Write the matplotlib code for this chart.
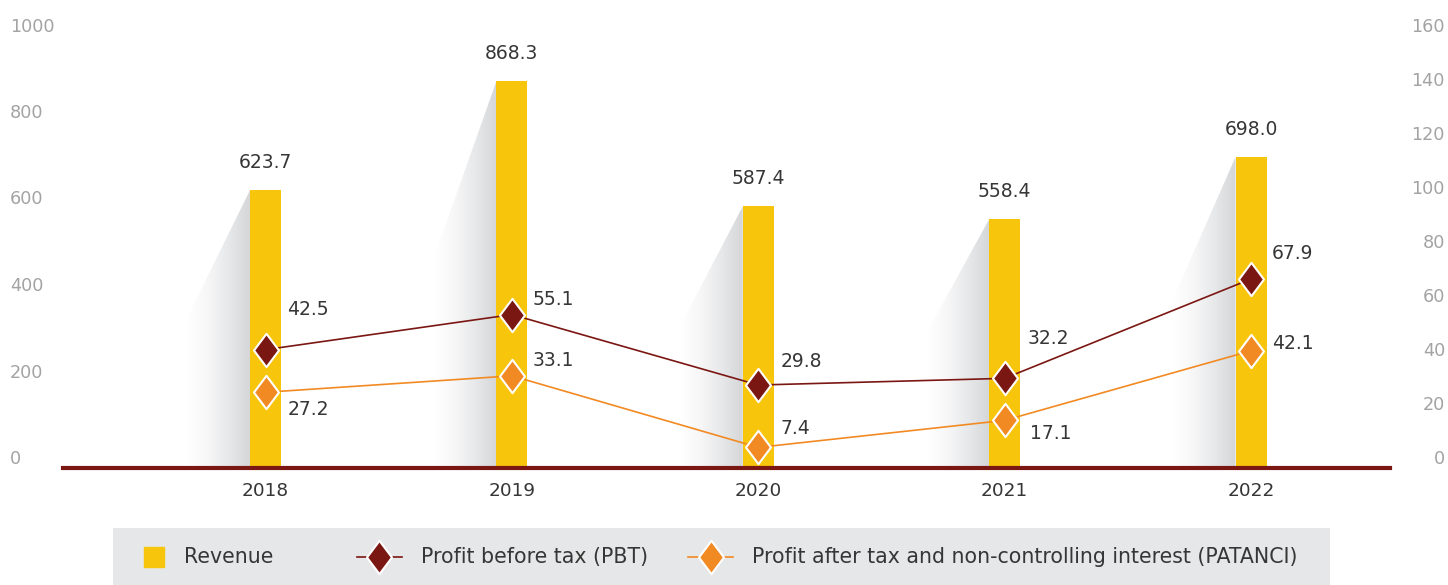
import numpy as np
import matplotlib.pyplot as plt
from matplotlib.path import Path
from matplotlib.patches import Polygon, Rectangle
from matplotlib.lines import Line2D
from matplotlib.colors import LinearSegmentedColormap
from matplotlib.transforms import ScaledTranslation

# --------------------
# Data
# --------------------
years = ['2018', '2019', '2020', '2021', '2022']
revenue = [623.7, 868.3, 587.4, 558.4, 698.0]
pbt = [42.5, 55.1, 29.8, 32.2, 67.9]
patanci = [27.2, 33.1, 7.4, 17.1, 42.1]

left_ticks = [0, 200, 400, 600, 800, 1000]
right_ticks = [0, 20, 40, 60, 80, 100, 120, 140, 160]

# couleurs
c_bar = '#f7c50c'
c_pbt = '#7b1713'
c_pat = '#f28a24'
c_text = '#363636'
c_tick = '#a3a3a3'
c_leg = '#e6e7e8'

# offsets (px) des étiquettes des courbes
pbt_off = [(22, 40), (21, 15), (22, 24), (23, 40), (21, 25)]
pat_off = [(22, -17), (21, 15), (22, 19), (25, -13), (21, 7)]

PX = 72 / 100  # px -> points

# diamond marker (plus haut que large)
diamond = Path([(0, 1), (0.75, 0), (0, -1), (-0.75, 0), (0, 1)],
               [Path.MOVETO, Path.LINETO, Path.LINETO, Path.LINETO, Path.CLOSEPOLY])
MS = 24

fig = plt.figure(figsize=(14.48, 5.85), dpi=100)
ax = fig.add_axes([63 / 1448, 117 / 585, (1390 - 63) / 1448, (468 - 22.5) / 585])
ax2 = ax.twinx()
ax2.set_zorder(ax.get_zorder() + 1)
ax2.patch.set_visible(False)

x = np.arange(len(years))
bw = 0.126

# ombres dégradées à gauche des barres
cmap = LinearSegmentedColormap.from_list('sh', ['#ffffff', '#f6f6f7', '#e6e7e8', '#d4d5d7'])
grad = np.linspace(0, 1, 256).reshape(1, -1)
sw = 0.25
for xi, r in zip(x, revenue):
    xl = xi - bw / 2
    drop = 0.45 * r
    poly = Polygon([(xl, r), (xl - sw, r - drop), (xl - sw, 0), (xl, 0)],
                   closed=True, transform=ax.transData)
    im = ax.imshow(grad, cmap=cmap, extent=[xl - sw, xl + 0.005, 0, r], aspect='auto',
                   zorder=0.5, interpolation='bilinear')
    im.set_clip_path(poly)

ax.bar(x, revenue, width=bw, color=c_bar, zorder=1)
for xi, r in zip(x, revenue):
    ax.annotate(f'{r:.1f}', (xi, r), xytext=(0, 22 * PX), textcoords='offset points',
                ha='center', va='baseline', fontsize=13.5, color=c_text)

ax2.plot(x, pbt, color=c_pbt, lw=1.2, marker=diamond, ms=MS, mfc=c_pbt,
         mec='white', mew=1.5, zorder=3)
ax2.plot(x, patanci, color=c_pat, lw=1.2, marker=diamond, ms=MS, mfc=c_pat,
         mec='white', mew=1.5, zorder=3)

for xi, v, (dx, dy) in zip(x, pbt, pbt_off):
    ax2.annotate(f'{v:.1f}', (xi, v), xytext=(dx * PX, dy * PX), textcoords='offset points',
                 ha='left', va='center', fontsize=13.5, color=c_text)
for xi, v, (dx, dy) in zip(x, patanci, pat_off):
    ax2.annotate(f'{v:.1f}', (xi, v), xytext=(dx * PX, dy * PX), textcoords='offset points',
                 ha='left', va='center', fontsize=13.5, color=c_text)

# axes
ax.set_xlim(-0.822, 4.564)
ax.set_ylim(0, 1000)
ax2.set_ylim(0, 160)
ax.set_xticks(x)
ax.set_xticklabels(years)
ax.set_yticks(left_ticks)
ax2.set_yticks(right_ticks)

for a in (ax, ax2):
    for s in ['top', 'left', 'right']:
        a.spines[s].set_visible(False)
ax2.spines['bottom'].set_visible(False)
ax.spines['bottom'].set_color(c_pbt)
ax.spines['bottom'].set_linewidth(3)
ax.spines['bottom'].set_zorder(5)

ax.tick_params(axis='x', length=0, pad=10, labelsize=13.3, labelcolor=c_text)
ax.tick_params(axis='y', length=0, pad=53 * PX, labelsize=12.7, labelcolor=c_tick)
ax2.tick_params(axis='y', length=0, pad=55 * PX, labelsize=12.7, labelcolor=c_tick)

for lab in ax.get_yticklabels():
    lab.set_horizontalalignment('left')
for lab in ax2.get_yticklabels():
    lab.set_horizontalalignment('right')

# léger décalage vertical des graduations (comme l'original)
for vals, a, vmax in ((left_ticks, ax, 1000), (right_ticks, ax2, 160)):
    for v, t in zip(vals, a.yaxis.get_major_ticks()):
        up = 13 * (1 - v / vmax) - 2
        lab = t.label1 if a is ax else t.label2
        lab.set_transform(lab.get_transform() + ScaledTranslation(0, up / 100, fig.dpi_scale_trans))

# --------------------
# Légende
# --------------------
fig.add_artist(Rectangle((113 / 1448, 0), 1217 / 1448, 57 / 585,
                         transform=fig.transFigure, facecolor=c_leg, edgecolor='none', zorder=0))
ly = (585 - 557) / 585
fig.add_artist(Line2D([153.5 / 1448], [ly], transform=fig.transFigure, marker='s',
                      ms=15, color=c_bar, lw=0))
fig.text(184 / 1448, ly, 'Revenue', ha='left', va='center', fontsize=14.8, color=c_text)

for x0, x1, c, label in ((357, 402, c_pbt, 'Profit before tax (PBT)'),
                         (688, 733, c_pat, 'Profit after tax and non-controlling interest (PATANCI)')):
    fig.add_artist(Line2D([x0 / 1448, x1 / 1448], [ly, ly], transform=fig.transFigure,
                          color=c, lw=1.2))
    fig.add_artist(Line2D([(x0 + x1) / 2 / 1448], [ly], transform=fig.transFigure,
                          marker=diamond, ms=MS, mfc=c, mec='white', mew=1.5, lw=0))
    fig.text((x1 + 19) / 1448, ly, label, ha='left', va='center', fontsize=14.8, color=c_text)

fig.savefig('out.png', dpi=100)
